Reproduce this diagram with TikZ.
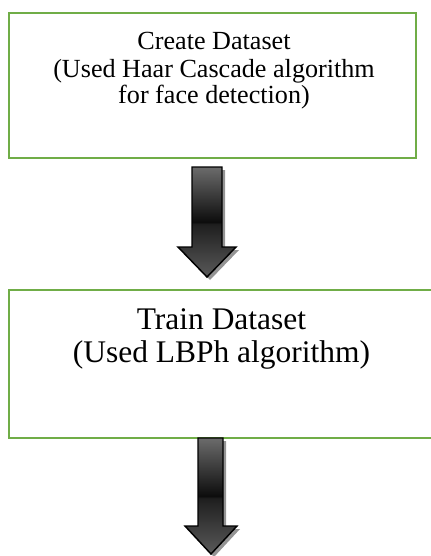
\documentclass[tikz,border=0pt]{standalone}
\usepackage{fontspec}
\setmainfont{Liberation Serif}
\definecolor{boxgreen}{HTML}{70AD47}
\pgfdeclareverticalshading{arrowsh}{100bp}{%
  color(0bp)=(black!65);
  color(25bp)=(black!65);
  color(49bp)=(black!88);
  color(50bp)=(black!95);
  color(75bp)=(black!58);
  color(100bp)=(black!58)}
\begin{document}
\begin{tikzpicture}[x=0.75pt,y=-0.75pt,
  box/.style={draw=boxgreen,line width=1.2pt,rectangle,inner sep=0pt},
  lbl/.style={align=center,inner sep=0pt},
  arrowline/.style={draw=black,line width=1.1pt,line join=miter},
  arrowshade/.style={shading=arrowsh},
  shadowfill/.style={fill=black!42}]
\clip (0,0) rectangle (431,556);
\useasboundingbox (0,0) rectangle (431,556);
% boxes
\coordinate (b1nw) at (9,13);
\coordinate (b1se) at (416,158);
\draw[box] (b1nw) rectangle (b1se);
\node[lbl,anchor=base,font=\fontsize{19.6pt}{20.25pt}\selectfont] (t1) at (214,104)
  {Create Dataset\\(Used Haar Cascade algorithm\\for face detection)};
\coordinate (b2nw) at (9,290);
\coordinate (b2se) at (445,438);
\draw[box] (b2nw) rectangle (b2se);
\node[lbl,anchor=base,font=\fontsize{23.6pt}{24.75pt}\selectfont] (t2) at (221.5,362)
  {Train Dataset\\(Used LBPh algorithm)};
% arrow 1
\def\arrowA{(192,167) -- (222,167) -- (222,247) -- (236,247) -- (207,277) -- (178,247) -- (192,247) -- cycle}
\fill[shadowfill,shift={(3,3)}] \arrowA;
\shade[arrowshade] \arrowA;
\draw[arrowline] \arrowA;
% arrow 2
\def\arrowB{(198,438) -- (223,438) -- (223,526) -- (237,526) -- (211,554) -- (185,526) -- (198,526) -- cycle}
\fill[shadowfill,shift={(3,3)}] \arrowB;
\shade[arrowshade] \arrowB;
\draw[arrowline] \arrowB;
\end{tikzpicture}
\end{document}
